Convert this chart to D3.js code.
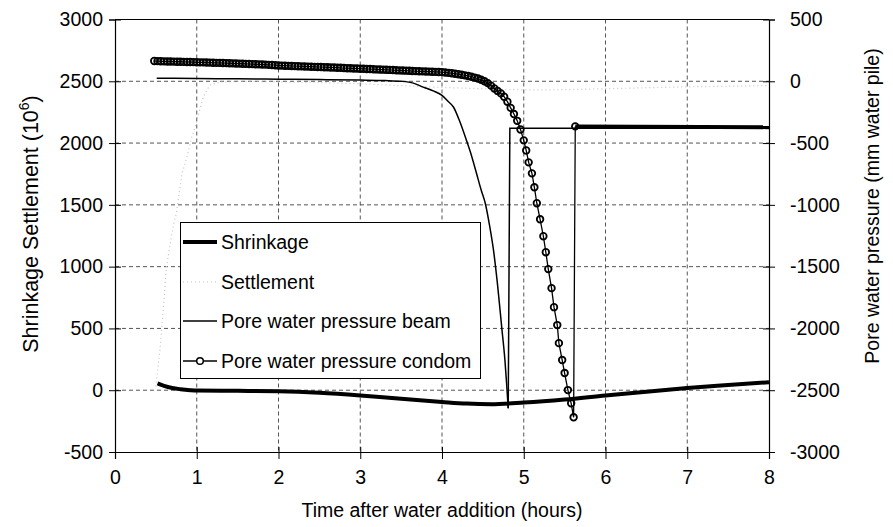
<!DOCTYPE html>
<html>
<head>
<meta charset="utf-8">
<script src="https://cdn.jsdelivr.net/npm/d3@7"></script>
<style>
  html, body { margin: 0; padding: 0; background: #fff; }
  svg { display: block; }
  text { font-family: "Liberation Sans", Arial, sans-serif; fill: #000; }
</style>
</head>
<body>
<svg id="chart" width="893" height="527"></svg>
<script>
// ---------- data ----------
const xTicks = [0, 1, 2, 3, 4, 5, 6, 7, 8];
const leftTicks = [-500, 0, 500, 1000, 1500, 2000, 2500, 3000];
const rightTicks = [-3000, -2500, -2000, -1500, -1000, -500, 0, 500];

const shrinkageHours = [0.52, 0.6, 0.7, 0.8, 0.92, 1.0, 1.5, 2.0, 2.5, 3.0, 3.5, 4.0, 4.3, 4.6, 5.0, 5.5, 6.0, 6.5, 7.0, 7.5, 8.0];
const shrinkageValues = [55, 35, 18, 8, 0, -3, -5, -8, -20, -42, -70, -95, -108, -113, -100, -75, -42, -12, 18, 42, 65];

const settlementHours = [0.5, 0.55, 0.59, 0.63, 0.71, 0.75, 0.82, 0.88, 0.94, 0.98, 1.08, 1.16, 1.3, 1.6, 2.0, 2.5, 3.0, 3.5, 4.0, 4.5, 5.0, 5.5, 6.0, 7.0, 8.0];
const settlementValues = [30, 326, 649, 1000, 1322, 1431, 1754, 1888, 2050, 2131, 2373, 2470, 2495, 2500, 2495, 2490, 2480, 2465, 2450, 2440, 2430, 2432, 2440, 2455, 2465];

const beamHours = [0.51, 1.0, 1.5, 2.0, 2.5, 3.0, 3.3, 3.5, 3.65, 3.77, 3.9, 4.0, 4.07, 4.14, 4.22, 4.30, 4.36, 4.42, 4.48, 4.53, 4.58, 4.63, 4.68, 4.73, 4.77, 4.79, 4.81];
const beamPressure = [25, 22, 20, 17, 14, 10, 6, 0, -15, -47, -80, -114, -160, -208, -330, -480, -600, -740, -882, -989, -1160, -1367, -1650, -1987, -2260, -2444, -2646];
const beamAfterHours = [4.81, 4.83, 8.0];
const beamAfterPressure = [-2646, -380, -380];

const condomHours = [
  0.48, 0.52, 0.56, 0.60, 0.64, 0.68, 0.72, 0.76, 0.80, 0.84, 0.88, 0.92, 0.96,
  1.00, 1.04, 1.08, 1.12, 1.16, 1.20, 1.24, 1.28, 1.32, 1.36, 1.40, 1.44, 1.48,
  1.52, 1.56, 1.60, 1.64, 1.68, 1.72, 1.76, 1.80, 1.84, 1.88, 1.92, 1.96,
  2.00, 2.04, 2.08, 2.12, 2.16, 2.20, 2.24, 2.28, 2.32, 2.36, 2.40, 2.44, 2.48,
  2.52, 2.56, 2.60, 2.64, 2.68, 2.72, 2.76, 2.80, 2.84, 2.88, 2.92, 2.96,
  3.00, 3.04, 3.08, 3.12, 3.16, 3.20, 3.24, 3.28, 3.32, 3.36, 3.40, 3.44, 3.48,
  3.52, 3.56, 3.60, 3.64, 3.68, 3.72, 3.76, 3.80, 3.84, 3.88, 3.92, 3.96,
  4.00, 4.04, 4.08, 4.12, 4.16, 4.20, 4.24, 4.28, 4.32, 4.36, 4.40, 4.44, 4.48,
  4.52, 4.56, 4.60, 4.64, 4.68, 4.72, 4.76, 4.80, 4.84, 4.88, 4.92, 4.96,
  5.00, 5.03, 5.06, 5.10, 5.13, 5.16, 5.20, 5.24, 5.27, 5.30, 5.34, 5.37,
  5.41, 5.43, 5.47, 5.50, 5.54, 5.58, 5.61, 5.63];
const condomPressure = [
  164, 163, 162, 161, 160, 160, 159, 158, 158, 157, 156, 156, 155,
  154, 153, 153, 152, 151, 150, 149, 149, 148, 147, 146, 145, 144,
  143, 142, 141, 140, 139, 138, 137, 136, 135, 133, 132, 130,
  128, 127, 126, 125, 124, 123, 122, 121, 120, 119, 118, 117, 116,
  115, 114, 113, 112, 111, 110, 109, 107, 106, 105, 104, 103,
  102, 101, 100, 99, 98, 96, 95, 94, 93, 92, 91, 89, 88,
  87, 86, 85, 83, 82, 81, 80, 79, 78, 77, 76, 75,
  74, 71, 68, 65, 61, 57, 53, 48, 43, 37, 30, 22, 12,
  0, -15, -35, -58, -78, -98, -125, -165, -215, -265, -320, -390,
  -478, -560, -656, -745, -858, -987, -1117, -1254, -1383, -1520, -1674, -1828,
  -1973, -2119, -2256, -2361, -2499, -2606, -2719, -365];
const condomTailHours = [5.63, 8.0];
const condomTailPressure = [-365, -372];

const legendLabels = ["Shrinkage", "Settlement", "Pore water pressure beam", "Pore water pressure condom"];

// ---------- layout ----------
const svg = d3.select("#chart");
const L = 115, R = 769, T = 19.5, B = 452;
const x = d3.scaleLinear().domain([0, 8]).range([L, R]);
const yL = d3.scaleLinear().domain([-500, 3000]).range([B, T]);
const yR = d3.scaleLinear().domain([-3000, 500]).range([B, T]);
const FS = 19.5;
const fmt = d => String(d); // hyphen-minus like the original

// grid
const grid = svg.append("g").attr("stroke", "#555").attr("stroke-width", 1).attr("stroke-dasharray", "4,3");
grid.selectAll("line.h").data(leftTicks.filter(d => d > -500 && d < 3000)).enter().append("line")
  .attr("x1", L).attr("x2", R).attr("y1", d => yL(d)).attr("y2", d => yL(d));
grid.selectAll("line.v").data(xTicks.filter(d => d > 0 && d < 8)).enter().append("line")
  .attr("y1", T).attr("y2", B).attr("x1", d => x(d)).attr("x2", d => x(d));

// frame
svg.append("line").attr("x1", L).attr("x2", R).attr("y1", T).attr("y2", T).attr("stroke", "#000");

// axes
const axL = svg.append("g").attr("transform", `translate(${L},0)`)
  .call(d3.axisLeft(yL).tickValues(leftTicks).tickSize(6).tickPadding(8).tickFormat(fmt));
const axR = svg.append("g").attr("transform", `translate(${R},0)`)
  .call(d3.axisRight(yR).tickValues(rightTicks).tickSize(6).tickPadding(16).tickFormat(fmt));
const axB = svg.append("g").attr("transform", `translate(0,${B})`)
  .call(d3.axisBottom(x).tickValues(xTicks).tickSize(7).tickPadding(11).tickFormat(fmt));
[axL, axR, axB].forEach(g => {
  g.select(".domain").attr("stroke", "#000").attr("stroke-width", 1.2);
  g.selectAll(".tick line").attr("stroke", "#000");
  g.selectAll(".tick text").attr("font-size", FS).attr("font-family", "Liberation Sans, Arial, sans-serif").attr("fill", "#000");
});
axL.selectAll(".tick line").attr("x1", 6).attr("x2", -6);
axR.selectAll(".tick line").attr("x1", -6).attr("x2", 6);
axB.selectAll(".tick line").attr("y1", -5).attr("y2", 7);
axL.selectAll(".tick text").attr("x", -12);
axR.selectAll(".tick text").attr("x", 21);

// axis titles
svg.append("text").attr("x", (L + R) / 2).attr("y", 517).attr("text-anchor", "middle")
  .attr("font-size", FS).text("Time after water addition (hours)");
const lt = svg.append("text").attr("transform", `translate(38,224) rotate(-90)`)
  .attr("text-anchor", "middle").attr("font-size", 21.5);
lt.append("tspan").text("Shrinkage Settlement (10");
lt.append("tspan").attr("font-size", 14).attr("dy", -9).text("6");
lt.append("tspan").attr("dy", 9).text(")");
svg.append("text").attr("transform", `translate(879,206) rotate(-90)`)
  .attr("text-anchor", "middle").attr("font-size", FS).text("Pore water pressure (mm water pile)");

// ---------- series ----------
svg.append("defs").append("clipPath").attr("id", "plot")
  .append("rect").attr("x", L).attr("y", T - 8).attr("width", R - L).attr("height", B - T + 8);
const plot = svg.append("g").attr("clip-path", "url(#plot)");

const lineL = d3.line().x(d => x(d[0])).y(d => yL(d[1]));
const lineR = d3.line().x(d => x(d[0])).y(d => yR(d[1]));
const smoothR = d3.line().curve(d3.curveMonotoneX).x(d => x(d[0])).y(d => yR(d[1]));
const zip = (a, b) => a.map((v, i) => [v, b[i]]);

plot.append("path").datum(zip(settlementHours, settlementValues)).attr("d", lineL)
  .attr("fill", "none").attr("stroke", "#c4c4c4").attr("stroke-width", 1.2).attr("stroke-dasharray", "1,3");
plot.append("path").datum(zip(shrinkageHours, shrinkageValues))
  .attr("d", d3.line().curve(d3.curveMonotoneX).x(d => x(d[0])).y(d => yL(d[1])))
  .attr("fill", "none").attr("stroke", "#000").attr("stroke-width", 4).attr("stroke-linejoin", "round");
plot.append("path").datum(zip(beamHours, beamPressure)).attr("d", smoothR)
  .attr("fill", "none").attr("stroke", "#000").attr("stroke-width", 1.5);
plot.append("path").datum(zip(beamAfterHours, beamAfterPressure)).attr("d", lineR)
  .attr("fill", "none").attr("stroke", "#000").attr("stroke-width", 1.5);
plot.append("path").datum(zip(condomTailHours, condomTailPressure)).attr("d", lineR)
  .attr("fill", "none").attr("stroke", "#000").attr("stroke-width", 3.8);
const condom = zip(condomHours, condomPressure);
plot.append("path").datum(condom).attr("d", lineR)
  .attr("fill", "none").attr("stroke", "#000").attr("stroke-width", 1.3);
plot.selectAll("circle.c").data(condom).enter().append("circle")
  .attr("cx", d => x(d[0])).attr("cy", d => yR(d[1])).attr("r", 3.3)
  .attr("fill", "none").attr("stroke", "#000").attr("stroke-width", 1.8);

// ---------- legend ----------
const lg = svg.append("g");
lg.append("rect").attr("x", 180.5).attr("y", 222.5).attr("width", 300).attr("height", 156)
  .attr("fill", "#fff").attr("stroke", "#000").attr("stroke-width", 1);
const ly = [242, 282, 321, 361];
legendLabels.forEach((lab, i) => {
  const g = lg.append("g");
  const ln = g.append("line").attr("x1", 183).attr("x2", 217).attr("y1", ly[i]).attr("y2", ly[i]).attr("stroke", "#000");
  if (i === 0) ln.attr("stroke-width", 4);
  if (i === 1) ln.attr("stroke", "#c4c4c4").attr("stroke-width", 1.2).attr("stroke-dasharray", "1,3");
  if (i === 2) ln.attr("stroke-width", 1.5);
  if (i === 3) {
    ln.attr("stroke-width", 1.3);
    g.append("circle").attr("cx", 200).attr("cy", ly[i]).attr("r", 3.3).attr("fill", "#fff").attr("stroke", "#000").attr("stroke-width", 1.5);
  }
  g.append("text").attr("x", 221).attr("y", ly[i]).attr("dy", "0.35em").attr("font-size", FS).text(lab);
});
</script>
</body>
</html>
